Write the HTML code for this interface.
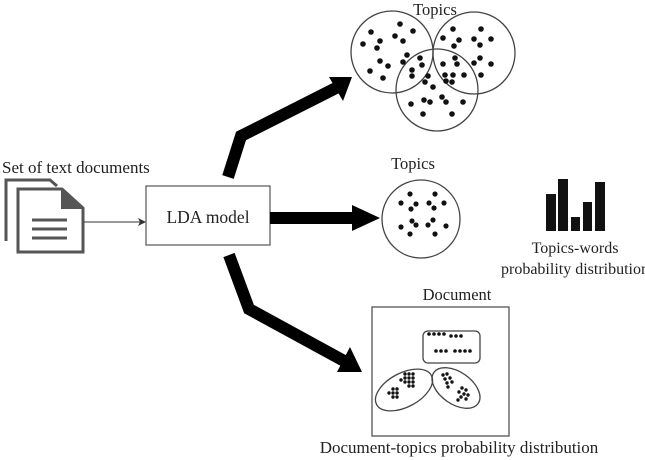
<!DOCTYPE html>
<html><head><style>
html,body{margin:0;padding:0;background:#fff;}
svg{display:block;}
text{font-family:"Liberation Serif","DejaVu Serif",serif;fill:#222;}
</style></head><body>
<svg width="645" height="460" viewBox="0 0 645 460" xmlns="http://www.w3.org/2000/svg" font-family="Liberation Serif, serif">
<text x="435" y="15" font-size="16.5" text-anchor="middle">Topics</text>
<g fill="none" stroke="#444" stroke-width="1.3">
<circle cx="392" cy="52" r="41"/>
<circle cx="474" cy="53" r="41"/>
<circle cx="437" cy="90" r="41"/>
</g>
<g fill="#111">
<circle cx="400" cy="24" r="2.8"/><circle cx="371" cy="32" r="2.8"/><circle cx="413" cy="31" r="2.8"/>
<circle cx="395" cy="36" r="2.8"/><circle cx="380" cy="41" r="2.8"/><circle cx="403" cy="41" r="2.8"/>
<circle cx="363" cy="44" r="2.8"/><circle cx="377" cy="48" r="2.8"/><circle cx="407" cy="55" r="2.8"/>
<circle cx="380" cy="61" r="2.8"/><circle cx="388" cy="66" r="2.8"/><circle cx="403" cy="62" r="2.8"/>
<circle cx="370" cy="71" r="2.8"/><circle cx="383" cy="78" r="2.8"/><circle cx="420" cy="58" r="2.8"/>
<circle cx="422" cy="65" r="2.8"/><circle cx="412" cy="70" r="2.8"/><circle cx="412" cy="76" r="2.8"/>
<circle cx="428" cy="76" r="2.8"/><circle cx="425" cy="82" r="2.8"/>
<circle cx="453" cy="29" r="2.8"/><circle cx="481" cy="29" r="2.8"/><circle cx="443" cy="38" r="2.8"/>
<circle cx="459" cy="40" r="2.8"/><circle cx="474" cy="39" r="2.8"/><circle cx="491" cy="39" r="2.8"/>
<circle cx="454" cy="46" r="2.8"/><circle cx="480" cy="45" r="2.8"/><circle cx="455" cy="58" r="2.8"/>
<circle cx="480" cy="58" r="2.8"/><circle cx="443" cy="64" r="2.8"/><circle cx="457" cy="64" r="2.8"/>
<circle cx="474" cy="63" r="2.8"/><circle cx="491" cy="64" r="2.8"/><circle cx="445" cy="75" r="2.8"/>
<circle cx="453" cy="75" r="2.8"/><circle cx="464" cy="75" r="2.8"/><circle cx="481" cy="75" r="2.8"/>
<circle cx="446" cy="81" r="2.8"/><circle cx="452" cy="82" r="2.8"/>
<circle cx="424" cy="100" r="2.8"/><circle cx="442" cy="97" r="2.8"/><circle cx="411" cy="104" r="2.8"/>
<circle cx="430" cy="102" r="2.8"/><circle cx="446" cy="102" r="2.8"/><circle cx="463" cy="102" r="2.8"/>
<circle cx="423" cy="114" r="2.8"/><circle cx="452" cy="114" r="2.8"/><circle cx="433" cy="87" r="2.8"/>
</g>
<g fill="none" stroke="#555" stroke-width="3">
<path d="M6,241 V180 H50 L57,186"/>
</g>
<path d="M18,189 H62 L83,208 V252 H18 Z" fill="#fff" stroke="#555" stroke-width="3"/>
<path d="M61,188 L84,209 H61 Z" fill="#555"/>
<g stroke="#555" stroke-width="3"><line x1="32" y1="220" x2="67" y2="220"/><line x1="32" y1="229" x2="67" y2="229"/><line x1="32" y1="238" x2="67" y2="238"/></g>
<text x="2" y="173" font-size="17">Set of text documents</text>
<line x1="84" y1="222" x2="140" y2="222" stroke="#333" stroke-width="1"/>
<path d="M146,222 L138,218 L140,222 L138,226 Z" fill="#333"/>
<rect x="146" y="186" width="124" height="59" fill="#fff" stroke="#555" stroke-width="1.2"/>
<text x="208" y="223" font-size="17.5" text-anchor="middle">LDA model</text>
<g fill="none" stroke="#000" stroke-width="12">
<polyline points="228,177 241,136 336,88"/>
<line x1="270" y1="218" x2="355" y2="218"/>
<polyline points="229,255 249,309 346,362"/>
</g>
<path d="M352,77 L329,77 L343,101 Z" fill="#000"/>
<path d="M380,218 L352,205 L352,231 Z" fill="#000"/>
<path d="M362,372 L350,347 L337,372 Z" fill="#000"/>
<text x="413" y="169" font-size="16.5" text-anchor="middle">Topics</text>
<circle cx="421" cy="219" r="39" fill="none" stroke="#444" stroke-width="1.3"/>
<g fill="#111">
<circle cx="410" cy="194" r="2.6"/><circle cx="435" cy="194" r="2.6"/><circle cx="401" cy="203" r="2.6"/>
<circle cx="416" cy="204" r="2.6"/><circle cx="429" cy="203" r="2.6"/><circle cx="444" cy="203" r="2.6"/>
<circle cx="411" cy="209" r="2.6"/><circle cx="434" cy="208" r="2.6"/><circle cx="412" cy="221" r="2.6"/>
<circle cx="433" cy="220" r="2.6"/><circle cx="401" cy="227" r="2.6"/><circle cx="416" cy="225" r="2.6"/>
<circle cx="428" cy="225" r="2.6"/><circle cx="446" cy="226" r="2.6"/><circle cx="410" cy="234" r="2.6"/>
<circle cx="435" cy="234" r="2.6"/>
</g>
<g fill="#111">
<rect x="546" y="194" width="10" height="37"/><rect x="558" y="179" width="10" height="52"/>
<rect x="571" y="217" width="9" height="14"/><rect x="583" y="202" width="9" height="29"/>
<rect x="595" y="182" width="10" height="49"/>
</g>
<text x="575" y="253" font-size="16" text-anchor="middle">Topics-words</text>
<text x="575" y="274" font-size="16" text-anchor="middle">probability distribution</text>
<text x="457" y="300" font-size="16.5" text-anchor="middle">Document</text>
<rect x="372" y="307" width="137" height="129" fill="none" stroke="#555" stroke-width="1.3"/>
<rect x="423" y="331" width="57" height="32" rx="5" fill="none" stroke="#444" stroke-width="1.3"/>
<g fill="#111">
<circle cx="429" cy="334" r="1.8"/><circle cx="434" cy="334" r="1.8"/><circle cx="439" cy="334" r="1.8"/><circle cx="444" cy="334" r="1.8"/>
<circle cx="451" cy="336" r="1.8"/><circle cx="456" cy="336" r="1.8"/><circle cx="461" cy="336" r="1.8"/>
<circle cx="436" cy="351" r="1.8"/><circle cx="441" cy="351" r="1.8"/><circle cx="446" cy="351" r="1.8"/>
<circle cx="455" cy="351" r="1.8"/><circle cx="460" cy="351" r="1.8"/><circle cx="465" cy="351" r="1.8"/><circle cx="470" cy="351" r="1.8"/>
</g>
<ellipse cx="404" cy="390" rx="31" ry="17" transform="rotate(-28 404 390)" fill="none" stroke="#444" stroke-width="1.3"/>
<ellipse cx="456" cy="388" rx="27" ry="16" transform="rotate(35 456 388)" fill="none" stroke="#444" stroke-width="1.3"/>
<g fill="#111">
<circle cx="405" cy="374" r="1.7"/><circle cx="409" cy="374" r="1.7"/><circle cx="413" cy="374" r="1.7"/>
<circle cx="405" cy="378" r="1.7"/><circle cx="409" cy="378" r="1.7"/><circle cx="413" cy="378" r="1.7"/><circle cx="401" cy="380" r="1.7"/>
<circle cx="405" cy="382" r="1.7"/><circle cx="409" cy="382" r="1.7"/><circle cx="413" cy="382" r="1.7"/>
<circle cx="409" cy="386" r="1.7"/><circle cx="413" cy="386" r="1.7"/>
<circle cx="393" cy="389" r="1.7"/><circle cx="397" cy="389" r="1.7"/><circle cx="389" cy="393" r="1.7"/><circle cx="393" cy="393" r="1.7"/><circle cx="397" cy="393" r="1.7"/>
<circle cx="393" cy="397" r="1.7"/><circle cx="397" cy="397" r="1.7"/>
<circle cx="443" cy="375" r="1.7"/><circle cx="447" cy="374" r="1.7"/><circle cx="445" cy="379" r="1.7"/><circle cx="450" cy="378" r="1.7"/>
<circle cx="447" cy="383" r="1.7"/><circle cx="452" cy="382" r="1.7"/><circle cx="448" cy="387" r="1.7"/>
<circle cx="462" cy="388" r="1.7"/><circle cx="466" cy="390" r="1.7"/><circle cx="459" cy="392" r="1.7"/><circle cx="464" cy="394" r="1.7"/>
<circle cx="468" cy="395" r="1.7"/><circle cx="461" cy="397" r="1.7"/><circle cx="466" cy="399" r="1.7"/><circle cx="458" cy="400" r="1.7"/>
</g>
<text x="459" y="453" font-size="17" text-anchor="middle">Document-topics probability distribution</text>
</svg>
</body></html>
